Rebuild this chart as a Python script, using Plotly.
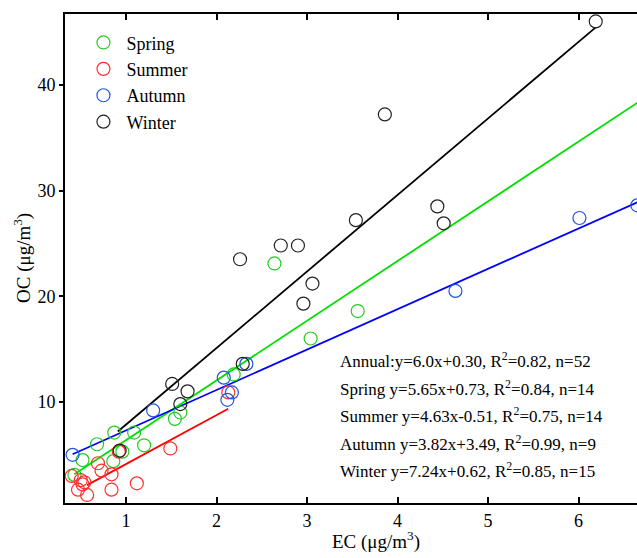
import plotly.graph_objects as go

# ---- data (EC, OC in ug/m3) ----
spring_ec = [0.43, 0.52, 0.68, 0.86, 0.87, 0.96, 1.09, 1.20, 1.54, 1.60, 2.19, 2.64, 3.04, 3.56]
spring_oc = [3.1, 4.5, 6.0, 4.4, 7.1, 5.3, 7.1, 5.9, 8.4, 9.0, 12.6, 23.1, 16.0, 18.6]

summer_ec = [0.40, 0.47, 0.50, 0.52, 0.54, 0.57, 0.69, 0.73, 0.84, 0.84, 0.92, 1.12, 1.49, 2.13]
summer_oc = [3.0, 1.7, 2.6, 2.2, 2.4, 1.2, 4.2, 3.5, 3.15, 1.7, 5.3, 2.3, 5.6, 10.9]

autumn_ec = [0.41, 1.30, 2.08, 2.12, 2.17, 2.33, 4.64, 6.01, 6.65]
autumn_oc = [5.0, 9.2, 12.3, 10.2, 10.9, 13.6, 20.5, 27.4, 28.6]

winter_ec = [0.93, 1.51, 1.60, 1.68, 2.26, 2.29, 2.71, 2.90, 2.96, 3.06, 3.54, 3.86, 4.44, 4.51, 6.19]
winter_oc = [5.4, 11.7, 9.8, 11.0, 23.5, 13.6, 24.8, 24.8, 19.3, 21.2, 27.2, 37.2, 28.5, 26.9, 46.0]

# regression lines: slope, intercept, x extent
fits = {
    "Spring": (5.65, 0.73, [0.43, 6.7]),
    "Summer": (4.63, -0.51, [0.57, 2.13]),
    "Autumn": (3.82, 3.49, [0.41, 6.7]),
    "Winter": (7.24, 0.62, [0.91, 6.19]),
}

eq_lines = [
    "Annual:y=6.0x+0.30, R<sup>2</sup>=0.82, n=52",
    "Spring y=5.65x+0.73, R<sup>2</sup>=0.84, n=14",
    "Summer y=4.63x-0.51, R<sup>2</sup>=0.75, n=14",
    "Autumn y=3.82x+3.49, R<sup>2</sup>=0.99, n=9",
    "Winter y=7.24x+0.62, R<sup>2</sup>=0.85, n=15",
]

x_ticks = [1, 2, 3, 4, 5, 6]
y_ticks = [10, 20, 30, 40]

series = [
    ("Spring", spring_ec, spring_oc, "#22cc22", "#00e000"),
    ("Summer", summer_ec, summer_oc, "#ff3030", "#ff0000"),
    ("Autumn", autumn_ec, autumn_oc, "#2255dd", "#0000ff"),
    ("Winter", winter_ec, winter_oc, "#222222", "#000000"),
]

FONT = "Liberation Serif, Times New Roman, serif"

fig = go.Figure()
for name, xs, ys, mcol, lcol in series:
    a, b, (x0, x1) = fits[name]
    fig.add_trace(go.Scatter(
        x=[x0, x1], y=[a * x0 + b, a * x1 + b], mode="lines",
        line=dict(color=lcol, width=1.8), showlegend=False, hoverinfo="skip"))
for name, xs, ys, mcol, lcol in series:
    fig.add_trace(go.Scatter(
        x=xs, y=ys, mode="markers", name=name,
        marker=dict(symbol="circle-open", size=13, color=mcol, line=dict(width=1.2, color=mcol))))

W, H = 637, 558
L, R, T, B = 65, 0, 14, 55
pw, ph = W - L - R, H - T - B

def px(x):
    return (x - L) / pw

def py(y):
    return (H - B - y) / ph

annotations = []
row_y = [360, 388, 415, 443, 470]
for txt, yy in zip(eq_lines, row_y):
    annotations.append(dict(text=txt, x=px(338), y=py(yy), xref="paper", yref="paper",
                            xanchor="left", yanchor="middle", showarrow=False,
                            font=dict(family=FONT, size=17, color="black")))
annotations.append(dict(text="EC (μg/m<sup>3</sup>)", x=px(376), y=py(540), xref="paper", yref="paper",
                        xanchor="center", yanchor="middle", showarrow=False,
                        font=dict(family=FONT, size=19, color="black")))
annotations.append(dict(text="OC (μg/m<sup>3</sup>)", x=px(22), y=py(258), xref="paper", yref="paper",
                        xanchor="center", yanchor="middle", showarrow=False, textangle=-90,
                        font=dict(family=FONT, size=19, color="black")))

fig.update_layout(
    width=W, height=H,
    margin=dict(l=L, r=R, t=T, b=B),
    paper_bgcolor="white", plot_bgcolor="white",
    font=dict(family=FONT, size=18, color="black"),
    showlegend=True,
    legend=dict(x=0.027, y=0.979, xanchor="left", yanchor="top",
                bgcolor="rgba(0,0,0,0)", font=dict(family=FONT, size=18),
                tracegroupgap=0, itemwidth=36),
    annotations=annotations,
)
fig.update_xaxes(range=[0.326, 6.646], tickvals=x_ticks, ticks="inside", ticklen=6,
                 tickwidth=1.5, tickcolor="black", showline=True, linecolor="black",
                 linewidth=2, mirror="ticks", showgrid=False, zeroline=False,
                 tickfont=dict(family=FONT, size=18))
fig.update_yaxes(range=[0.44, 46.7], tickvals=y_ticks, ticks="outside", ticklen=4,
                 tickwidth=1.5, tickcolor="black", showline=True, linecolor="black",
                 linewidth=2, mirror=False, showgrid=False, zeroline=False,
                 tickfont=dict(family=FONT, size=18))

fig.write_html("out.html")
